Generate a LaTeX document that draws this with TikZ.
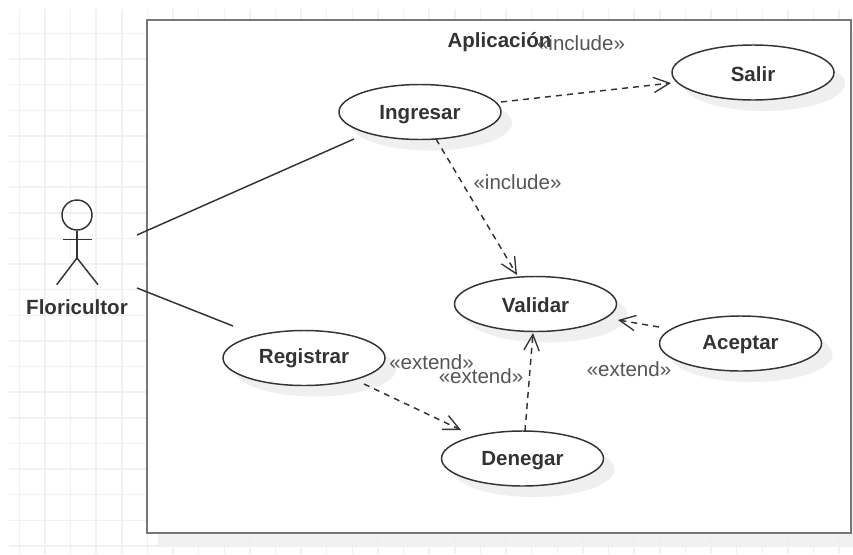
\documentclass[tikz,border=0pt]{standalone}
\usepackage{fontspec}
\setmainfont{Liberation Sans}
\usetikzlibrary{shapes.geometric,arrows.meta}
\definecolor{gridc}{HTML}{F1F1F1}
\definecolor{shadowc}{HTML}{EFEFEF}
\definecolor{boxc}{HTML}{777777}
\definecolor{linec}{HTML}{333333}
\definecolor{labelc}{HTML}{555555}
\tikzset{
  x=0.75pt,y=-0.75pt,
  usecase/.style={ellipse,draw=linec,fill=white,line width=1.1pt,minimum width=121.5pt,minimum height=41.25pt,inner sep=0pt,text=linec,text depth=0pt,font=\fontsize{15.4}{18}\selectfont\bfseries},
  ushadow/.style={ellipse,fill=shadowc,minimum width=121.5pt,minimum height=41.25pt,inner sep=0pt},
  assoc/.style={draw=linec,line width=1.1pt},
  dep/.style={draw=linec,line width=1.1pt,dash pattern=on 4.5pt off 3.8pt,-{Straight Barb[length=12pt,width=11.5pt,line width=1pt]}},
  stereo/.style={text=labelc,inner sep=0pt,anchor=base,font=\fontsize{15.4}{18}\selectfont},
  boldlabel/.style={text=linec,inner sep=0pt,anchor=base,font=\fontsize{15.4}{18}\selectfont\bfseries},
  actorline/.style={draw=linec,line width=1.1pt},
}
\begin{document}
\begin{tikzpicture}
\useasboundingbox (0,0) rectangle (853,554);
% grid
\foreach \k in {0,...,32}{\draw[gridc,line width=1.1pt] ({19.3+25.62*\k},9) -- ({19.3+25.62*\k},554);}
\foreach \k in {0,...,20}{\draw[gridc,line width=1.1pt] (9,{33.5+25.62*\k}) -- (853,{33.5+25.62*\k});}
% application box
\fill[shadowc,opacity=.85] (158,31) rectangle (853,545);
\node[draw=boxc,fill=white,line width=1.6pt,rectangle,outer sep=0pt,minimum width=528pt,minimum height=384.75pt,inner sep=0pt,anchor=north west] (app) at (147,20) {};
\node[boldlabel] (apptitle) at (499.5,47.5) {Aplicación};
% shadows
\foreach \cx/\cy/\nm in {420/112/si,753/72.5/ss,535.5/304/sv,740.5/343.5/sa,304/358/sr,522.5/458.5/sd}{
  \node[ushadow] (\nm) at (\cx+11,\cy+11) {};
}
% use cases
\node[usecase,text height=10.5pt] (ing) at (420,112) {Ingresar};
\node[usecase,text height=13.8pt] (sal) at (753,72.5) {Salir};
\node[usecase,text height=13pt] (val) at (535.5,304) {Validar};
\node[usecase,text height=9.3pt] (ace) at (740.5,343.5) {Aceptar};
\node[usecase,text height=8.5pt] (reg) at (304,358) {Registrar};
\node[usecase,text height=10.5pt] (den) at (522.5,458.5) {Denegar};
% actor
\node[circle,draw=linec,line width=1.1pt,minimum size=22.5pt,inner sep=0pt] (head) at (77,215) {};
\coordinate (hip) at (77,258);
\coordinate (armL) at (62.5,239.5);
\coordinate (armR) at (92,239.5);
\coordinate (legL) at (56.7,284.7);
\coordinate (legR) at (98,284.7);
\draw[actorline] (head.south) -- (hip);
\draw[actorline] (armL) -- (armR);
\draw[actorline] (legL) -- (hip) -- (legR);
\node[boldlabel] (flo) at (77,314) {Floricultor};
% free ends
\coordinate (a1) at (137,235);
\coordinate (a2) at (137,288);
\coordinate (i0) at (354,139);
\coordinate (r1) at (233,326);
\coordinate (r2) at (364,384);
\coordinate (d1) at (461,430);
\coordinate (v1) at (618,320);
\coordinate (ae) at (659,327);
\coordinate (i1) at (501,102);
\coordinate (s1) at (671,83);
\coordinate (i2) at (436,139);
\coordinate (v2) at (517,275);
\coordinate (d2) at (525,431);
\coordinate (v3) at (533,333);
% connectors
\draw[assoc] (a1) -- (i0);
\draw[assoc] (a2) -- (r1);
\draw[dep] (i1) -- (s1);
\draw[dep] (i2) -- (v2);
\draw[dep] (r2) -- (d1);
\draw[dep] (d2) -- (v3);
\draw[dep] (ae) -- (v1);
% labels
\node[stereo] (l1) at (581,50) {«include»};
\node[stereo] (l2) at (517.5,189) {«include»};
\node[stereo] (l3) at (431.5,369) {«extend»};
\node[stereo] (l4) at (481,383.2) {«extend»};
\node[stereo] (l5) at (629,376.5) {«extend»};
\end{tikzpicture}
\end{document}
